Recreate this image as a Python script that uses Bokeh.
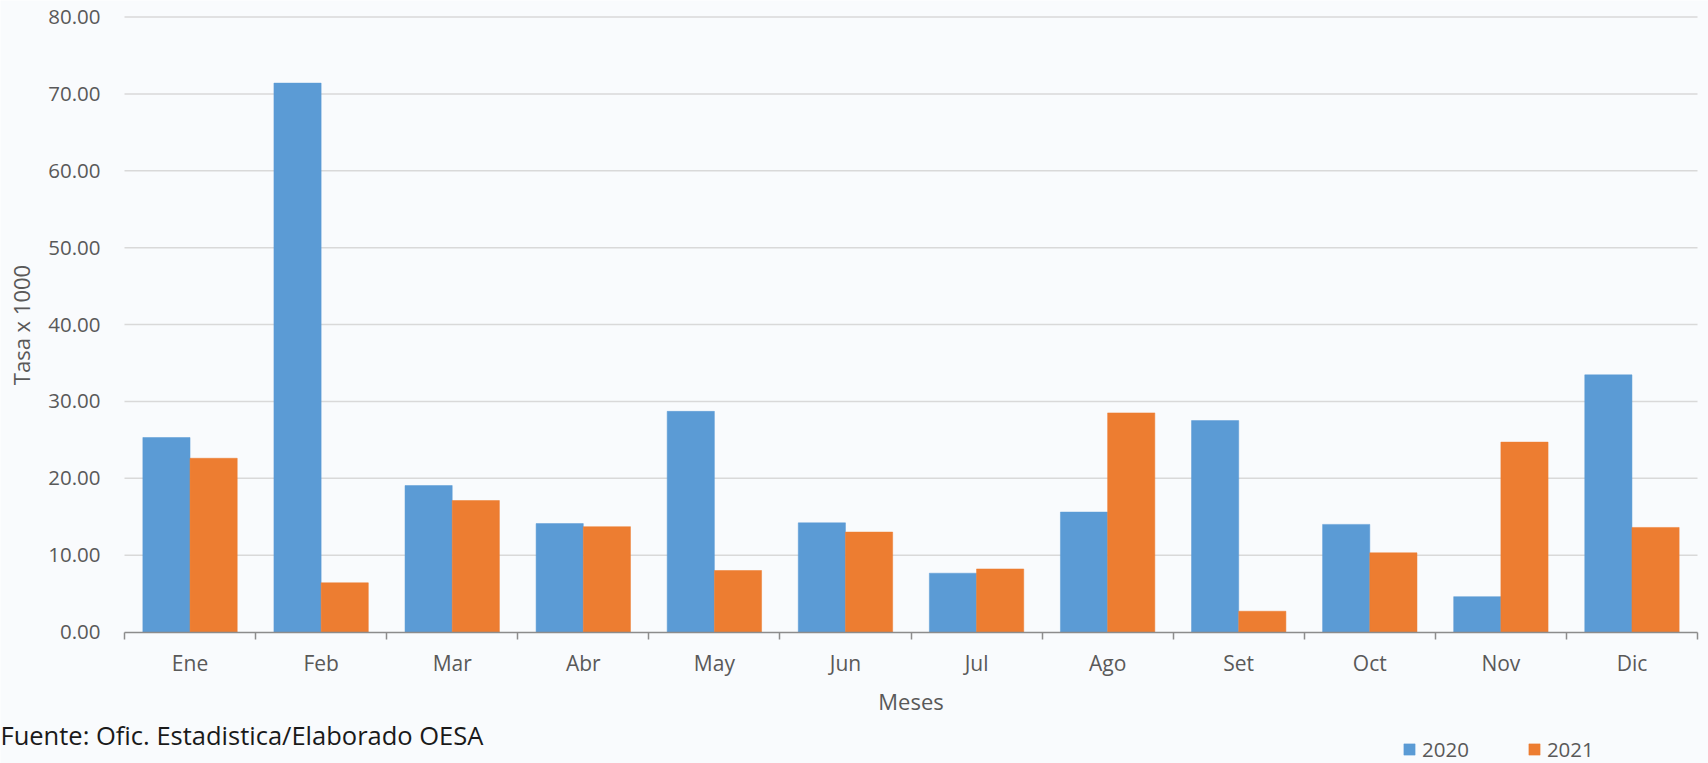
import numpy as np
from bokeh.plotting import figure
from bokeh.models import (Range1d, FixedTicker, Legend, LegendItem, Label,
                          ColumnDataSource, NumeralTickFormatter)
from bokeh.transform import dodge
from bokeh.embed import file_html
from bokeh.resources import INLINE

# ---- data ----
months = ["Ene", "Feb", "Mar", "Abr", "May", "Jun", "Jul", "Ago", "Set", "Oct", "Nov", "Dic"]
tasa_2020 = [25.3, 71.4, 19.05, 14.1, 28.7, 14.2, 7.65, 15.6, 27.5, 14.0, 4.6, 33.45]
tasa_2021 = [22.6, 6.4, 17.1, 13.7, 8.0, 13.0, 8.2, 28.5, 2.7, 10.3, 24.7, 13.6]
y_ticks = [0, 10, 20, 30, 40, 50, 60, 70, 80]
series_names = ["2020", "2021"]
source_text = "Fuente: Ofic. Estadistica/Elaborado OESA"

FONT = "Open Sans"
TXT = "#595959"
BLUE = "#5B9BD5"
ORANGE = "#ED7D31"
BG = "#F9FBFD"

# ---- layout (pixels of the canvas) ----
W, H = 1708, 763
PX_LEFT, PX_RIGHT = 124, 1697      # plot area left/right
PX_TOP, PX_ZERO = 16.5, 631.5      # y = 80 and y = 0
n = len(months)
ymax = y_ticks[-1]
xs = (PX_RIGHT - PX_LEFT) / n
ys = (PX_ZERO - PX_TOP) / ymax
x_range = Range1d(-PX_LEFT / xs, n + (W - PX_RIGHT) / xs)
y_range = Range1d(-(H - PX_ZERO) / ys, ymax + PX_TOP / ys)

pos = np.arange(n) + 0.5
src = ColumnDataSource(dict(x=pos, v2020=tasa_2020, v2021=tasa_2021))

p = figure(width=W, height=H, output_backend="svg", toolbar_location=None,
           x_range=x_range, y_range=y_range, min_border=0,
           background_fill_color=BG, border_fill_color=BG, outline_line_color=None)
p.grid.visible = False

# horizontal gridlines over the plot area only
p.segment(x0=0, x1=n, y0=y_ticks[1:], y1=y_ticks[1:], line_color="#D9D9D9", line_width=1.5)

r1 = p.vbar(x=dodge("x", -0.18, range=p.x_range), top="v2020", width=0.36, source=src,
            fill_color=BLUE, line_color=BLUE, line_width=0.5)
r2 = p.vbar(x=dodge("x", 0.18, range=p.x_range), top="v2021", width=0.36, source=src,
            fill_color=ORANGE, line_color=ORANGE, line_width=0.5)

# y axis (placed at x = 0)
ya = p.yaxis[0]
ya.fixed_location = 0
ya.bounds = (0, ymax)
ya.ticker = FixedTicker(ticks=y_ticks)
ya.formatter = NumeralTickFormatter(format="0.00")
ya.axis_line_color = None
ya.major_tick_line_color = None
ya.minor_tick_line_color = None
ya.major_tick_out = 0
ya.major_tick_in = 0
ya.major_label_standoff = 24
ya.major_label_text_font = FONT
ya.major_label_text_font_size = "20.5px"
ya.major_label_text_color = TXT
ya.axis_label = "Tasa x 1000"
ya.axis_label_text_font = FONT
ya.axis_label_text_font_size = "22px"
ya.axis_label_text_font_style = "normal"
ya.axis_label_text_color = TXT
ya.axis_label_standoff = 9

# x axis (placed at y = 0)
xa = p.xaxis[0]
xa.fixed_location = 0
xa.bounds = (0, n)
xa.ticker = FixedTicker(ticks=list(pos), minor_ticks=list(range(n + 1)))
xa.major_label_overrides = {float(v): m for v, m in zip(pos, months)}
xa.axis_line_color = "#8C8C8C"
xa.axis_line_width = 1.5
xa.major_tick_line_color = None
xa.major_tick_out = 7
xa.major_tick_in = 0
xa.minor_tick_line_color = "#8C8C8C"
xa.minor_tick_line_width = 1.5
xa.minor_tick_out = 7
xa.minor_tick_in = 0
xa.major_label_standoff = 10
xa.major_label_text_font = FONT
xa.major_label_text_font_size = "21px"
xa.major_label_text_color = TXT
xa.axis_label = "Meses"
xa.axis_label_text_font = FONT
xa.axis_label_text_font_size = "22px"
xa.axis_label_text_font_style = "normal"
xa.axis_label_text_color = TXT
xa.axis_label_standoff = 5

legend = Legend(items=[LegendItem(label=series_names[0], renderers=[r1]),
                       LegendItem(label=series_names[1], renderers=[r2])],
                orientation="horizontal", location=(1402, 0),
                glyph_width=14, glyph_height=14, label_standoff=6, spacing=58,
                padding=0, margin=0, border_line_color=None, background_fill_alpha=0,
                label_text_font=FONT, label_text_font_size="20.5px", label_text_color=TXT)
p.add_layout(legend, "center")

p.add_layout(Label(x=0, y=29, x_units="screen", y_units="screen", text=source_text,
                   text_font=FONT, text_font_size="25.5px", text_color="#1A1A1A",
                   text_baseline="middle", text_align="left"))

open("out.html", "w").write(file_html(p, INLINE))
